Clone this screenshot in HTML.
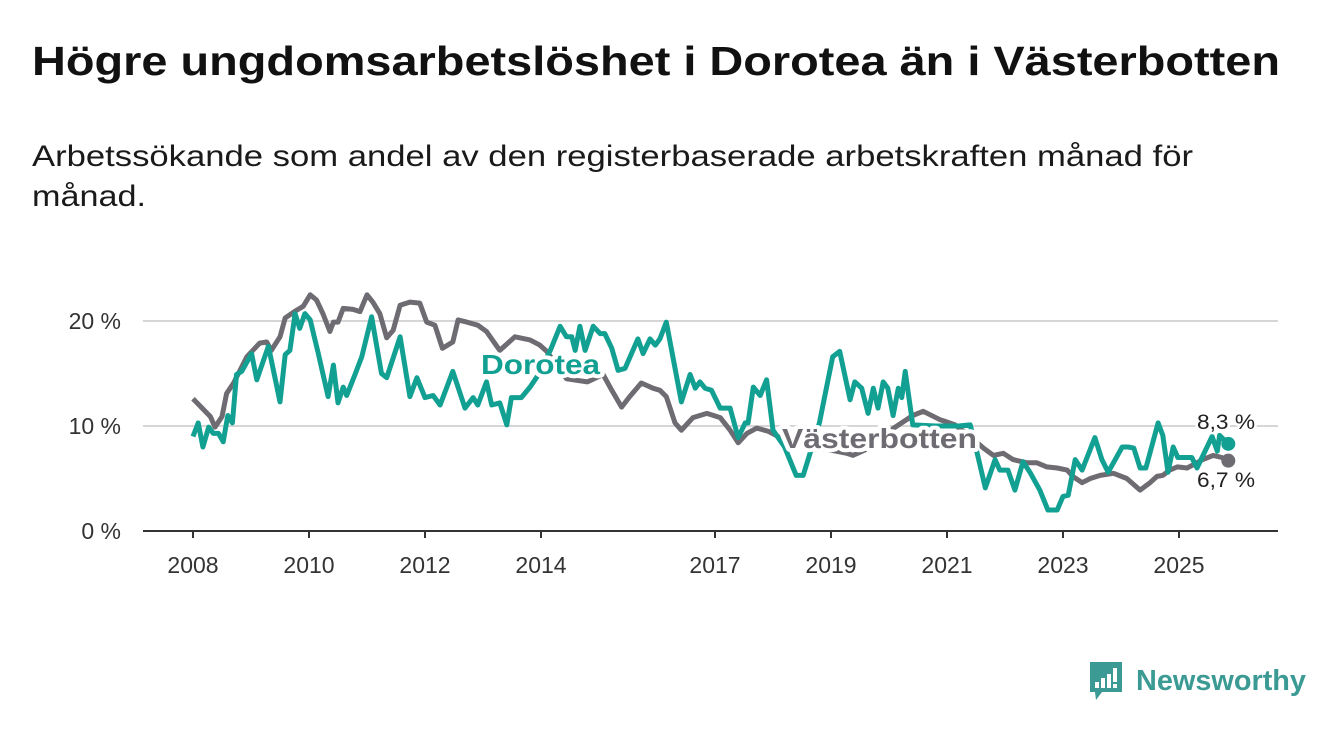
<!DOCTYPE html>
<html><head><meta charset="utf-8"><style>
html,body{margin:0;padding:0;background:#fff;}
svg{display:block;font-family:"Liberation Sans",sans-serif;}
</style></head><body>
<svg width="1340" height="734" viewBox="0 0 1340 734">
<text x="32" y="75" font-size="41" font-weight="bold" fill="#111" textLength="1248" lengthAdjust="spacingAndGlyphs">Högre ungdomsarbetslöshet i Dorotea än i Västerbotten</text>
<text x="32" y="166" font-size="30" fill="#1a1a1a" textLength="1161" lengthAdjust="spacingAndGlyphs">Arbetssökande som andel av den registerbaserade arbetskraften månad för</text>
<text x="32" y="206" font-size="30" fill="#1a1a1a" textLength="114" lengthAdjust="spacingAndGlyphs">månad.</text>
<g id="grid"></g>
<g id="xaxis"></g>
<g id="lines"></g>
<g id="labels"></g>
<g>
<path d="M1090 662 h32 v30 h-20 l-6 8 l-1 -8 h-5 z" fill="#3b9a93"/>
<rect x="1095" y="682" width="4" height="6" fill="#fff"/>
<rect x="1101" y="678" width="4" height="10" fill="#fff"/>
<rect x="1107" y="674" width="4" height="14" fill="#fff"/>
<rect x="1113" y="668" width="4" height="14" fill="#fff"/>
<rect x="1113" y="684" width="4" height="4" fill="#fff"/>
<text x="1136" y="690" font-size="29" font-weight="bold" fill="#3b9a93" textLength="170" lengthAdjust="spacingAndGlyphs">Newsworthy</text>
</g>
</svg>
<script>
const yTicks=[0,10,20];
const xTickYears=[2008,2010,2012,2014,2017,2019,2021,2023,2025];
const vastDates=[2008.0,2008.3,2008.38,2008.5,2008.58,2008.7,2008.93,2009.15,2009.27,2009.35,2009.5,2009.59,2009.78,2009.9,2010.02,2010.13,2010.24,2010.36,2010.42,2010.5,2010.59,2010.76,2010.88,2011.0,2011.1,2011.22,2011.34,2011.45,2011.57,2011.74,2011.91,2012.03,2012.17,2012.3,2012.48,2012.57,2012.72,2012.91,2013.06,2013.2,2013.29,2013.55,2013.81,2013.98,2014.1,2014.44,2014.8,2015.07,2015.22,2015.39,2015.53,2015.73,2015.93,2016.05,2016.16,2016.31,2016.42,2016.62,2016.86,2017.09,2017.26,2017.4,2017.55,2017.72,2017.92,2018.12,2018.5,2018.9,2019.27,2019.38,2019.7,2020.0,2020.41,2020.59,2020.88,2020.99,2021.14,2021.4,2021.63,2021.8,2021.97,2022.14,2022.38,2022.55,2022.72,2022.9,2023.07,2023.17,2023.33,2023.47,2023.64,2023.87,2024.1,2024.33,2024.5,2024.62,2024.72,2024.84,2024.97,2025.14,2025.24,2025.41,2025.59,2025.74,2025.85];
const vastValues=[12.6,10.9,9.9,10.9,13.1,14.1,16.6,17.9,18.0,17.2,18.5,20.3,21.0,21.4,22.5,22.0,20.7,19.0,19.9,19.9,21.2,21.1,20.9,22.5,21.8,20.7,18.4,19.1,21.5,21.8,21.7,19.9,19.6,17.4,18.0,20.1,19.9,19.6,19.0,17.9,17.2,18.5,18.2,17.7,17.1,14.5,14.2,14.9,13.4,11.8,12.8,14.1,13.6,13.4,12.8,10.3,9.6,10.8,11.2,10.8,9.6,8.4,9.3,9.8,9.5,8.9,8.2,7.8,7.4,7.2,8.0,9.5,11.0,11.4,10.6,10.4,10.1,9.0,7.9,7.2,7.4,6.8,6.5,6.5,6.1,6.0,5.8,5.2,4.6,5.0,5.3,5.5,5.0,3.9,4.6,5.2,5.3,5.8,6.1,6.0,6.3,6.8,7.2,7.0,6.7];
const doroDates=[2008.0,2008.09,2008.17,2008.27,2008.35,2008.44,2008.52,2008.6,2008.68,2008.75,2008.84,2009.01,2009.1,2009.3,2009.5,2009.59,2009.67,2009.76,2009.84,2009.93,2010.02,2010.16,2010.33,2010.42,2010.5,2010.59,2010.65,2010.8,2010.91,2011.08,2011.25,2011.34,2011.57,2011.74,2011.86,2012.0,2012.14,2012.26,2012.48,2012.69,2012.83,2012.91,2013.06,2013.15,2013.29,2013.41,2013.49,2013.66,2013.81,2013.92,2014.16,2014.33,2014.44,2014.53,2014.59,2014.67,2014.76,2014.9,2015.02,2015.1,2015.22,2015.33,2015.45,2015.67,2015.76,2015.88,2015.97,2016.05,2016.16,2016.42,2016.57,2016.66,2016.74,2016.83,2016.94,2017.09,2017.26,2017.4,2017.52,2017.57,2017.66,2017.78,2017.89,2018.0,2018.2,2018.4,2018.52,2018.8,2019.03,2019.15,2019.33,2019.41,2019.53,2019.64,2019.73,2019.81,2019.9,2019.98,2020.07,2020.16,2020.22,2020.28,2020.41,2020.8,2021.2,2021.4,2021.53,2021.66,2021.83,2021.91,2022.05,2022.17,2022.31,2022.43,2022.6,2022.74,2022.9,2023.0,2023.09,2023.21,2023.33,2023.55,2023.67,2023.78,2024.02,2024.12,2024.22,2024.33,2024.43,2024.64,2024.72,2024.81,2024.9,2024.98,2025.22,2025.31,2025.57,2025.66,2025.7,2025.85];
const doroValues=[9.0,10.3,8.0,9.9,9.3,9.3,8.5,11.0,10.3,14.9,15.2,16.9,14.4,17.6,12.3,16.8,17.2,20.7,19.3,20.7,20.1,16.9,12.8,15.8,12.2,13.7,12.9,15.0,16.6,20.4,15.0,14.6,18.5,12.8,14.6,12.7,12.9,12.0,15.2,11.7,12.7,12.0,14.2,12.0,12.2,10.1,12.7,12.7,13.7,14.6,17.2,19.5,18.5,18.5,17.2,19.5,17.2,19.5,18.8,18.8,17.4,15.3,15.5,18.3,16.9,18.3,17.7,18.3,19.9,12.3,14.9,13.6,14.2,13.6,13.4,11.7,11.7,8.9,10.3,10.3,13.7,12.9,14.4,9.6,8.0,5.3,5.3,10.3,16.6,17.1,12.5,14.2,13.6,11.2,13.6,11.7,14.2,13.6,11.0,13.6,12.7,15.2,10.1,10.0,10.0,10.1,7.2,4.1,6.8,5.8,5.8,3.9,6.6,5.6,3.9,2.0,2.0,3.3,3.4,6.8,5.8,8.9,6.8,5.6,8.0,8.0,7.9,6.0,6.0,10.3,9.1,5.6,8.0,7.0,7.0,6.0,9.0,7.6,9.1,8.3];
const NS='http://www.w3.org/2000/svg';
const x=d=>193+(d-2008)*58;
const y=v=>531-v*10.5;
function mk(tag,attrs,parent){const e=document.createElementNS(NS,tag);for(const k in attrs)e.setAttribute(k,attrs[k]);parent.appendChild(e);return e;}
const grid=document.getElementById('grid');
yTicks.forEach(t=>{
  const l=mk('line',{x1:143,x2:1278,y1:y(t),y2:y(t),stroke:t===0?'#333':'#d6d6d6','stroke-width':2},grid);
  
  
  const tx=mk('text',{x:121,y:y(t)+8,'font-size':23,fill:'#333','text-anchor':'end'},grid);
  tx.textContent=t+' %';
  
  
});
const xa=document.getElementById('xaxis');
xTickYears.forEach(yr=>{
  const l=mk('line',{x1:x(yr),x2:x(yr),y1:531,y2:538,stroke:'#333','stroke-width':2},xa);
  
  
  const t=mk('text',{x:x(yr),y:573,'font-size':23,fill:'#333','text-anchor':'middle'},xa);
  t.textContent=yr;
  
  
});
const lines=document.getElementById('lines');
function path(ds,vs){return ds.map((d,i)=>(i?'L':'M')+x(d).toFixed(1)+' '+y(vs[i]).toFixed(1)).join(' ');}
const pv=mk('path',{d:path(vastDates,vastValues),fill:'none',stroke:'#6e6c72','stroke-width':5,'stroke-linejoin':'round'},lines);


const pd=mk('path',{d:path(doroDates,doroValues),fill:'none',stroke:'#12a093','stroke-width':5,'stroke-linejoin':'round'},lines);


const vl=vastDates.length-1, dl=doroDates.length-1;
const cv=mk('circle',{cx:x(vastDates[vl]),cy:y(vastValues[vl]),r:7,fill:'#6e6c72'},lines);


const cd=mk('circle',{cx:x(doroDates[dl]),cy:y(doroValues[dl]),r:7,fill:'#12a093'},lines);


const lab=document.getElementById('labels');
function label(txt,ax,ay,col,size,bold,name,len){
  const a={x:ax,y:ay,'font-size':size,'font-weight':bold?'bold':'normal',fill:col,stroke:'#fff','stroke-width':bold?8:5,'paint-order':'stroke','stroke-linejoin':'round'};
  if(len){a.textLength=len;a.lengthAdjust='spacingAndGlyphs';}
  const t=mk('text',a,lab);
  t.textContent=txt;
  
  
  return t;
}
label('Dorotea',481,374,'#12a093',28,true,'dorotea-label',119);
label('Västerbotten',782,448,'#6e6c72',28,true,'vasterbotten-label',195);
label(String(doroValues[dl]).replace('.',',')+' %',1197,429,'#222',21,false,'dorotea-end-value',58);
label(String(vastValues[vl]).replace('.',',')+' %',1197,487,'#222',21,false,'vasterbotten-end-value',58);
</script>
</body></html>
